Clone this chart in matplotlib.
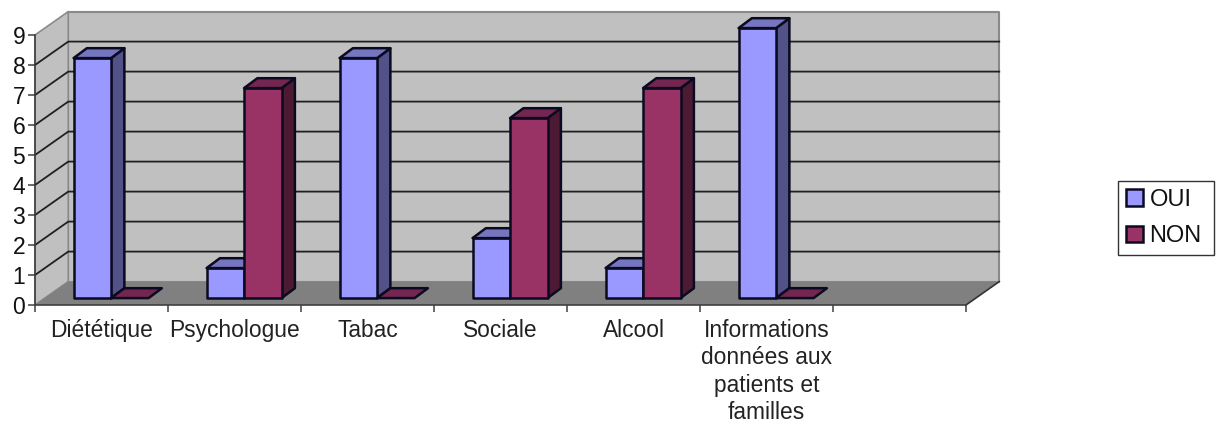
import matplotlib
matplotlib.use("Agg")
import matplotlib.pyplot as plt
import numpy as np
from matplotlib.patches import Polygon, Rectangle

plt.rcParams["font.family"] = ["Liberation Sans", "DejaVu Sans"]

categories = ["Diététique", "Psychologue", "Tabac", "Sociale", "Alcool",
              "Informations\ndonnées aux\npatients et\nfamilles"]
oui = [8, 1, 8, 2, 1, 9]
non = [0, 7, 0, 6, 7, 0]
series_names = ["OUI", "NON"]

n_slots = 7
y_max = 9

# depth of the fake 3D box, in data units
wall_dx, wall_dy = 0.25, 0.78
bar_dy0 = 0.23
bar_dx, bar_dy = 0.10, 0.33
bar_w = 0.282
bar_start = 0.29

oui_cols = ("#9999FF", "#525288", "#7575C0")
non_cols = ("#993366", "#4D1A33", "#732650")

fig = plt.figure(figsize=(12.16, 4.25), dpi=100)
ax = fig.add_axes([35 / 1216, 1 - 305 / 425, 931 / 1216, 270 / 425])
ax.set_xlim(0, n_slots)
ax.set_ylim(0, y_max)
ax.patch.set_visible(False)


def poly(pts, fc, ec, lw, z):
    ax.add_patch(Polygon(pts, closed=True, fc=fc, ec=ec, lw=lw, zorder=z,
                         clip_on=False, joinstyle="round"))


# walls and floor
poly([(wall_dx, wall_dy), (n_slots + wall_dx, wall_dy),
      (n_slots + wall_dx, y_max + wall_dy), (wall_dx, y_max + wall_dy)],
     "#C0C0C0", "#8A8A8A", 1.5, 1)
poly([(0, 0), (wall_dx, wall_dy), (wall_dx, y_max + wall_dy), (0, y_max)],
     "#C0C0C0", "#8A8A8A", 1.2, 1)
poly([(0, 0), (n_slots, 0), (n_slots + wall_dx, wall_dy), (wall_dx, wall_dy)],
     "#808080", "none", 0, 2)

# gridlines across the back wall and down the side wall
for level in range(1, y_max):
    ax.plot([0, wall_dx, n_slots + wall_dx],
            [level, level + wall_dy, level + wall_dy],
            color="#202020", lw=1.3, zorder=3, clip_on=False, solid_joinstyle="miter")
ax.plot([n_slots, n_slots + wall_dx], [0, wall_dy], color="#333333", lw=1.2,
        zorder=3, clip_on=False)


def draw_bar(x0, value, cols, z):
    x1 = x0 + bar_w
    y0 = bar_dy0
    top = y0 + value
    edge = "#0A0A20"
    if value > 0:
        poly([(x1, y0), (x1 + bar_dx, y0 + bar_dy), (x1 + bar_dx, top + bar_dy), (x1, top)],
             cols[1], edge, 1.8, z)
        poly([(x0, y0), (x1, y0), (x1, top), (x0, top)], cols[0], edge, 1.8, z)
    poly([(x0, top), (x1, top), (x1 + bar_dx, top + bar_dy), (x0 + bar_dx, top + bar_dy)],
         cols[2], edge, 1.8, z)


for i in range(len(categories)):
    draw_bar(i + bar_start, oui[i], oui_cols, 5)
    draw_bar(i + bar_start + bar_w, non[i], non_cols, 6)

# axes
for side in ("top", "right"):
    ax.spines[side].set_visible(False)
for side in ("left", "bottom"):
    ax.spines[side].set_color("#404040")
    ax.spines[side].set_linewidth(1.2)
    ax.spines[side].set_zorder(4)

ax.set_yticks(np.arange(0, y_max + 1))
ax.tick_params(axis="y", labelsize=16.5, length=5, width=1.1, color="#404040", pad=2,
               labelcolor="#111111")
ax.set_xticks(np.arange(0, n_slots + 1))
ax.set_xticklabels([])
ax.tick_params(axis="x", which="major", length=5, width=1.1, color="#404040")
ax.set_xticks(np.arange(len(categories)) + 0.5, minor=True)
ax.set_xticklabels(categories, minor=True, fontsize=16.4, color="#222222", linespacing=1.25)
ax.tick_params(axis="x", which="minor", length=0, pad=10)

# legend: frame drawn separately so its padding can be set per side
fig.add_artist(Rectangle((1118 / 1216, 1 - 255 / 425), 96 / 1216, 74 / 425,
                         transform=fig.transFigure, fc="white", ec="#333333", lw=1.0))
handles = [Rectangle((0, 0), 1, 1, fc=oui_cols[0], ec="#0A0A20", lw=1.8),
           Rectangle((0, 0), 1, 1, fc=non_cols[0], ec="#0A0A20", lw=1.8)]
leg = fig.legend(handles, series_names, loc="center left",
                 bbox_to_anchor=(1126 / 1216, 1 - 218 / 425), fontsize=17,
                 frameon=False, handlelength=0.72, handleheight=0.72, handletextpad=0.28,
                 labelspacing=0.62, borderpad=0, borderaxespad=0)
for text in leg.get_texts():
    text.set_color("#111111")

fig.savefig("out.png", dpi=100)
